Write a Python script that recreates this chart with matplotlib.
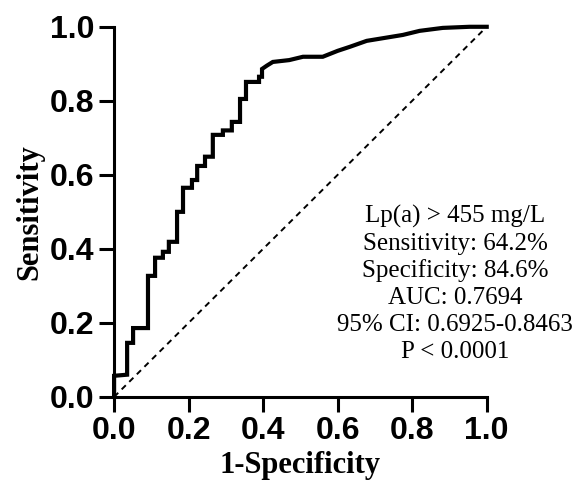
import matplotlib
matplotlib.use("Agg")
import matplotlib.pyplot as plt

# ROC curve vertices (1-specificity, sensitivity)
fpr = [0.0, 0.0, 0.035, 0.035, 0.051, 0.051, 0.091, 0.091, 0.110, 0.110,
       0.131, 0.131, 0.147, 0.147, 0.169, 0.169, 0.185, 0.185, 0.209, 0.209,
       0.223, 0.223, 0.244, 0.244, 0.265, 0.265, 0.292, 0.292, 0.316, 0.316,
       0.338, 0.338, 0.354, 0.354, 0.389, 0.389, 0.397, 0.397, 0.410, 0.426,
       0.470, 0.507, 0.560, 0.600, 0.633, 0.678, 0.775, 0.820, 0.882, 0.954, 1.0]
tpr = [0.0, 0.057, 0.060, 0.146, 0.146, 0.186, 0.186, 0.327, 0.327, 0.376,
       0.376, 0.392, 0.392, 0.419, 0.419, 0.500, 0.500, 0.565, 0.565, 0.586,
       0.586, 0.624, 0.624, 0.649, 0.649, 0.708, 0.708, 0.720, 0.720, 0.743,
       0.743, 0.805, 0.805, 0.851, 0.851, 0.865, 0.865, 0.886, 0.895, 0.905,
       0.910, 0.919, 0.919, 0.935, 0.946, 0.962, 0.978, 0.989, 0.997, 1.0, 1.0]

ticks = [0.0, 0.2, 0.4, 0.6, 0.8, 1.0]
ticklabels = ['0.0', '0.2', '0.4', '0.6', '0.8', '1.0']
stats = ['Lp(a) > 455 mg/L', 'Sensitivity: 64.2%', 'Specificity: 84.6%',
         'AUC: 0.7694', '95% CI: 0.6925-0.8463', 'P < 0.0001']

fig = plt.figure(figsize=(5.85, 4.87), dpi=100)
ax = fig.add_axes([0.195, 0.185, 0.637, 0.76])

ax.plot(fpr, tpr, color='black', lw=3.0, solid_joinstyle='miter', clip_on=False, zorder=3)
ax.plot([0, 1], [0, 1], color='black', lw=1.4, ls=(0, (3, 2.5)), clip_on=False)

ax.set_xlim(0, 1)
ax.set_ylim(0, 1)
for s in ['top', 'right']:
    ax.spines[s].set_visible(False)
for s in ['left', 'bottom']:
    ax.spines[s].set_linewidth(2.2)
ax.tick_params(width=2.2, length=11, direction='out', pad=3)
ax.set_xticks(ticks)
ax.set_yticks(ticks)
ax.set_xticklabels(ticklabels, fontsize=23, fontweight='bold', family='Liberation Sans')
ax.set_yticklabels(ticklabels, fontsize=23, fontweight='bold', family='Liberation Sans')

ax.set_xlabel('1-Specificity', fontsize=22, fontweight='bold', family='Liberation Serif', labelpad=3)
ax.set_ylabel('Sensitivity', fontsize=22, fontweight='bold', family='Liberation Serif', labelpad=4)

for i, line in enumerate(stats):
    ax.text(0.915, 0.487 - i * 0.073, line, transform=ax.transAxes, ha='center', va='center',
            fontsize=18, family='Liberation Serif', clip_on=False)

fig.savefig('out.png', dpi=100)
